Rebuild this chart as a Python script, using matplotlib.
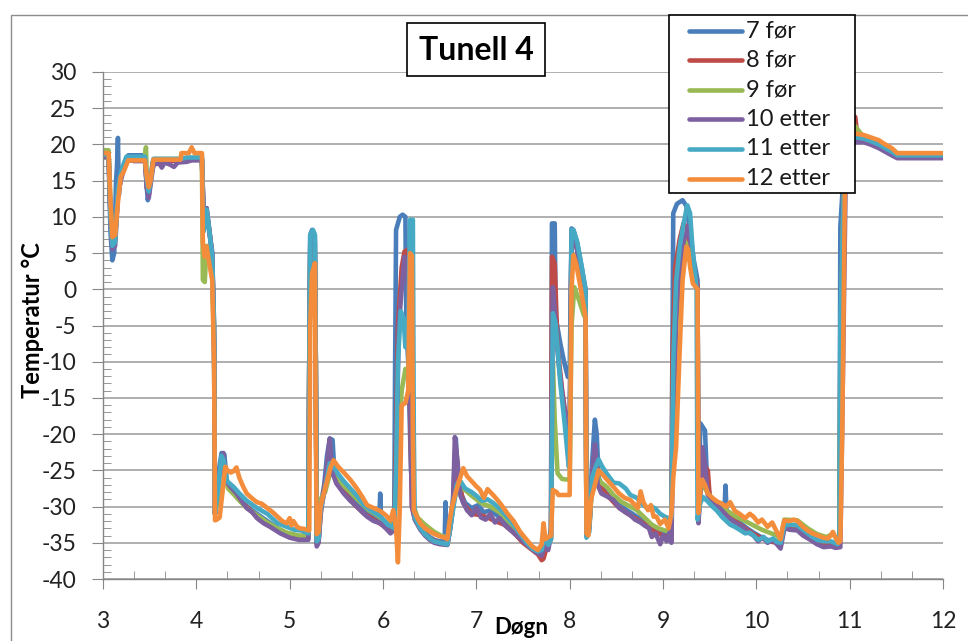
import matplotlib
matplotlib.use("Agg")
import matplotlib.pyplot as plt
from matplotlib.patches import Rectangle
from matplotlib.lines import Line2D
from matplotlib.ticker import MultipleLocator

plt.rcParams['font.family'] = ['Lato', 'DejaVu Sans']
plt.rcParams['axes.unicode_minus'] = False

# (døgn, temperatur) per måler
s7 = [(3.00,18.5),(3.06,18.5),(3.08,8),(3.10,4.0),(3.12,5),(3.14,15),(3.15,17),(3.16,20.9),(3.17,13),(3.19,16),(3.23,17.5),(3.27,18.5),(3.45,18.5),(3.47,14),(3.48,12.3),(3.50,14),(3.53,17.5),(3.83,18),(4.06,18),(4.08,9),(4.11,11.2),(4.14,8),(4.17,5),(4.19,-8),(4.20,-31),(4.23,-26),(4.27,-22.6),(4.30,-22.8),(4.33,-27),(4.40,-27.8),(4.47,-29),(4.54,-30),(4.65,-31),(4.76,-32),(4.87,-33),(4.97,-33.8),(5.05,-34),(5.12,-34.2),(5.20,-34.2),(5.21,-10),(5.22,7.5),(5.24,8.2),(5.27,7.5),(5.28,-10),(5.29,-35),(5.31,-34.6),(5.33,-30),(5.37,-27),(5.40,-23),(5.43,-20.6),(5.46,-20.8),(5.48,-25.5),(5.55,-27),(5.65,-28.5),(5.75,-30),(5.83,-30.8),(5.90,-31.5),(5.96,-31.8),(5.97,-28.2),(5.98,-31.8),(6.05,-32.6),(6.12,-32),(6.13,-10),(6.14,8.2),(6.18,10.0),(6.21,10.3),(6.24,10),(6.25,-5),(6.27,-10),(6.30,-25),(6.34,-31.5),(6.40,-32.8),(6.45,-33.6),(6.50,-34.2),(6.55,-34.6),(6.61,-34.8),(6.66,-34.8),(6.67,-29.4),(6.68,-34.5),(6.72,-32),(6.75,-29),(6.78,-20.6),(6.80,-25),(6.83,-28),(6.88,-29.5),(6.95,-30.2),(7.02,-29.8),(7.08,-30.8),(7.15,-30.5),(7.22,-31.2),(7.30,-32),(7.38,-33),(7.45,-33.9),(7.52,-34.8),(7.58,-35.5),(7.64,-36),(7.70,-36.4),(7.73,-34),(7.77,-35.5),(7.80,-33),(7.81,9.1),(7.84,9.1),(7.85,-3.8),(7.90,-7.5),(7.94,-10),(7.98,-12.1),(8.00,-12),(8.02,8.4),(8.04,8.2),(8.08,6.5),(8.13,3),(8.17,0),(8.18,-34),(8.21,-32),(8.24,-24),(8.27,-18),(8.29,-20),(8.31,-26),(8.36,-27.5),(8.42,-28.5),(8.47,-29),(8.53,-29.8),(8.60,-30.4),(8.65,-30.8),(8.72,-31.4),(8.80,-32.0),(8.88,-32.8),(8.95,-33.2),(9.02,-33.6),(9.09,-34),(9.10,-10),(9.11,10.5),(9.15,11.8),(9.21,12.3),(9.25,11.5),(9.29,8),(9.33,4),(9.37,1.3),(9.38,-31.5),(9.40,-18.5),(9.45,-19.5),(9.47,-26),(9.50,-28.6),(9.55,-29.4),(9.62,-30.2),(9.66,-30.0),(9.67,-27.1),(9.68,-30.5),(9.75,-31.5),(9.82,-32.2),(9.90,-33),(9.97,-33.6),(10.05,-34.2),(10.12,-34.6),(10.20,-34.8),(10.26,-35.2),(10.30,-32.8),(10.36,-32.8),(10.44,-33.0),(10.52,-33.8),(10.60,-34.4),(10.68,-34.9),(10.76,-35.2),(10.84,-35.3),(10.89,-35.3),(10.90,8.6),(10.93,15),(10.96,22),(11.06,21),(11.15,20.6),(11.22,20.3),(11.31,19.8),(11.38,19.3),(11.45,18.8),(11.51,18.3),(12.00,18.3)]

s8 = [(3.00,18.5),(3.06,18.5),(3.08,10),(3.10,6),(3.13,7),(3.16,13),(3.20,16),(3.25,17.8),(3.45,17.8),(3.47,14),(3.49,13),(3.52,16),(3.55,17.6),(3.83,17.8),(4.06,18),(4.08,9),(4.11,10.5),(4.14,8),(4.17,4.5),(4.19,-6),(4.20,-31),(4.23,-27),(4.28,-23),(4.31,-26.5),(4.38,-27.5),(4.45,-28.5),(4.54,-30),(4.65,-31.4),(4.76,-32.5),(4.87,-33.3),(4.97,-34),(5.10,-34.4),(5.20,-34.4),(5.21,-10),(5.22,5),(5.25,6.5),(5.27,5),(5.28,-10),(5.29,-35.2),(5.31,-34.8),(5.34,-30),(5.40,-25),(5.43,-22),(5.46,-25.5),(5.52,-27),(5.60,-28.3),(5.70,-29.8),(5.80,-31),(5.90,-31.8),(6.00,-32.6),(6.08,-33.4),(6.12,-33),(6.14,-20),(6.16,-5),(6.20,3),(6.23,5.2),(6.27,5.5),(6.28,-10),(6.31,-30),(6.34,-31.6),(6.40,-33),(6.50,-34.4),(6.60,-35),(6.69,-35.2),(6.72,-33),(6.75,-30),(6.78,-22),(6.81,-26),(6.86,-29.5),(6.95,-31),(7.05,-31.2),(7.12,-31.5),(7.20,-32),(7.30,-32.5),(7.40,-33.6),(7.50,-35),(7.58,-35.8),(7.66,-36.6),(7.70,-37.4),(7.72,-37.2),(7.75,-35.8),(7.80,-34.5),(7.81,4.5),(7.84,3.5),(7.87,-8),(7.92,-14),(7.98,-19.5),(8.00,-19.5),(8.02,7.5),(8.04,7.5),(8.08,5.5),(8.13,2),(8.17,-0.5),(8.18,-33.8),(8.21,-33),(8.24,-26),(8.27,-22),(8.31,-27),(8.40,-28.4),(8.50,-29.8),(8.60,-30.8),(8.70,-31.6),(8.80,-32.4),(8.90,-33.4),(9.00,-34),(9.09,-34.5),(9.10,-10),(9.13,3),(9.18,7),(9.22,9.1),(9.26,8.5),(9.30,5),(9.34,2),(9.37,0.5),(9.38,-31.5),(9.41,-26),(9.45,-24.5),(9.48,-25),(9.50,-28.5),(9.58,-29.8),(9.68,-31),(9.77,-32),(9.88,-33),(9.97,-33.8),(10.06,-34.4),(10.14,-34.8),(10.22,-35),(10.26,-35.4),(10.30,-32.6),(10.44,-33),(10.55,-34),(10.65,-34.8),(10.75,-35.3),(10.89,-35.4),(10.90,-10),(10.93,10),(10.96,20),(11.02,23),(11.06,23.8),(11.08,21.5),(11.15,20.7),(11.22,20.4),(11.31,19.9),(11.38,19.4),(11.45,18.9),(11.51,18.4),(12.00,18.4)]

s9 = [(3.00,19.2),(3.06,19.2),(3.08,12),(3.10,7),(3.13,7.5),(3.16,13),(3.20,16),(3.25,18),(3.45,18),(3.46,19.6),(3.47,15),(3.49,13.5),(3.52,16),(3.55,18),(3.83,18),(4.06,18.2),(4.07,1.3),(4.09,1),(4.11,6),(4.14,5),(4.17,2),(4.19,-8),(4.20,-31),(4.23,-29),(4.27,-28.5),(4.30,-25.5),(4.34,-27.5),(4.40,-28.3),(4.47,-29.3),(4.54,-30.2),(4.65,-31.2),(4.76,-32.2),(4.87,-33),(4.97,-33.6),(5.10,-34),(5.20,-34),(5.21,-10),(5.22,4),(5.25,5.5),(5.27,4),(5.28,-10),(5.29,-34.5),(5.31,-34),(5.33,-29),(5.38,-28),(5.44,-25),(5.48,-25.5),(5.55,-26.8),(5.65,-28),(5.75,-29.3),(5.85,-30.5),(5.95,-31.3),(6.05,-32.3),(6.12,-32.8),(6.14,-28),(6.17,-20),(6.20,-14),(6.24,-11),(6.27,-12),(6.29,-5),(6.31,-8),(6.33,-30),(6.37,-31.5),(6.45,-32.5),(6.55,-33.5),(6.62,-34),(6.69,-34.3),(6.72,-32.5),(6.75,-30),(6.80,-27),(6.86,-27.5),(6.95,-28.5),(7.05,-29.5),(7.15,-30),(7.25,-30.8),(7.33,-31.8),(7.42,-33),(7.50,-34.5),(7.58,-35.4),(7.66,-36.2),(7.70,-36),(7.73,-34),(7.77,-35.2),(7.80,-34.5),(7.82,-10),(7.84,-18),(7.87,-25.4),(7.92,-26.2),(8.00,-26.3),(8.02,-5),(8.05,0.3),(8.10,-1.5),(8.15,-3.5),(8.17,-4),(8.18,-33.8),(8.21,-33),(8.24,-27),(8.28,-25),(8.32,-26.5),(8.40,-27.3),(8.47,-28.4),(8.55,-29.3),(8.65,-30),(8.72,-30.5),(8.80,-31.5),(8.88,-32.5),(8.95,-33),(9.02,-33.3),(9.09,-33.5),(9.11,-15),(9.15,-3),(9.19,3),(9.24,6.5),(9.27,6),(9.31,2),(9.37,0),(9.38,-31),(9.41,-27),(9.45,-27.5),(9.50,-28.6),(9.58,-29.6),(9.68,-30.5),(9.77,-31.3),(9.88,-32),(9.97,-32.6),(10.06,-33.2),(10.14,-33.6),(10.22,-34),(10.26,-34.6),(10.30,-31.8),(10.44,-31.9),(10.55,-33),(10.65,-33.8),(10.75,-34.2),(10.82,-33.8),(10.89,-35),(10.90,-10),(10.93,10),(10.96,20),(11.02,23),(11.06,22.5),(11.15,21),(11.22,20.7),(11.31,20.2),(11.38,19.7),(11.45,19.2),(11.51,18.6),(12.00,18.6)]

s10 = [(3.00,18.3),(3.06,18.3),(3.08,10),(3.10,5.5),(3.13,6),(3.16,13),(3.19,15),(3.23,16.8),(3.27,18.0),(3.33,17.7),(3.45,17.7),(3.47,14),(3.49,12.6),(3.51,14.5),(3.54,17.2),(3.60,17.4),(3.63,16.8),(3.66,17.5),(3.72,17.2),(3.76,16.9),(3.80,17.5),(3.90,17.6),(3.95,17.8),(4.06,17.8),(4.08,10),(4.11,11.2),(4.14,8),(4.17,5),(4.19,-5),(4.20,-31),(4.22,-28),(4.25,-25),(4.29,-22.6),(4.31,-26.3),(4.36,-27.2),(4.43,-28.2),(4.50,-29.5),(4.54,-30.2),(4.60,-30.8),(4.65,-31.6),(4.72,-32.3),(4.79,-32.8),(4.85,-33.3),(4.90,-33.7),(5.00,-34.3),(5.10,-34.6),(5.20,-34.6),(5.21,-10),(5.22,6),(5.24,7.5),(5.27,6.5),(5.28,-10),(5.29,-35.5),(5.31,-35.0),(5.33,-31),(5.37,-28),(5.40,-24),(5.43,-20.6),(5.45,-25),(5.50,-26.8),(5.58,-28.2),(5.65,-29.2),(5.72,-30.0),(5.78,-30.8),(5.83,-31.4),(5.90,-32.0),(5.97,-32.3),(6.03,-33.0),(6.08,-33.7),(6.12,-33.2),(6.14,-25),(6.17,-5),(6.20,0),(6.23,4.5),(6.26,2),(6.28,-5),(6.31,-30),(6.34,-31.8),(6.40,-33.2),(6.45,-34.0),(6.50,-34.6),(6.55,-35.0),(6.61,-35.2),(6.69,-35.3),(6.72,-33),(6.75,-30),(6.77,-20.4),(6.80,-24),(6.83,-28.5),(6.86,-29.5),(6.90,-30.5),(6.95,-31.2),(7.00,-30.2),(7.05,-31.5),(7.10,-31.8),(7.15,-31.0),(7.20,-32.2),(7.25,-31.6),(7.30,-32.5),(7.38,-33.4),(7.45,-34.2),(7.52,-35.0),(7.58,-35.7),(7.64,-36.3),(7.70,-36.8),(7.73,-35.5),(7.77,-36),(7.80,-34),(7.82,0.3),(7.84,-3),(7.88,-10),(7.93,-15.5),(7.98,-19.9),(8.00,-20),(8.02,8.0),(8.04,8.0),(8.07,6),(8.12,2.5),(8.17,-0.1),(8.18,-33.5),(8.21,-33),(8.24,-26),(8.27,-21.4),(8.30,-27),(8.34,-28.2),(8.40,-28.6),(8.47,-29.1),(8.53,-30.2),(8.60,-30.8),(8.65,-31.2),(8.70,-31.8),(8.76,-32.2),(8.80,-32.6),(8.85,-33.0),(8.88,-34.2),(8.92,-33.7),(8.97,-35.2),(9.00,-34.0),(9.04,-34.8),(9.07,-33.6),(9.09,-35),(9.11,-20),(9.14,-4),(9.18,3),(9.22,6.5),(9.27,8.7),(9.30,6),(9.34,2),(9.37,0),(9.38,-32.3),(9.40,-28),(9.42,-21.8),(9.45,-24),(9.48,-28.4),(9.53,-29.2),(9.58,-29.8),(9.63,-30.5),(9.70,-31.5),(9.77,-32.2),(9.85,-32.8),(9.92,-33.6),(9.97,-34.0),(10.02,-34.8),(10.07,-34.2),(10.12,-35.0),(10.18,-34.6),(10.22,-35.2),(10.26,-35.8),(10.30,-33.0),(10.36,-33.2),(10.44,-33.3),(10.50,-34.0),(10.58,-34.6),(10.65,-35.2),(10.72,-35.6),(10.80,-35.5),(10.85,-35.7),(10.90,-35.6),(10.93,-10),(10.96,18),(11.00,21),(11.06,20.3),(11.15,20.3),(11.22,20.0),(11.31,19.5),(11.38,19.0),(11.45,18.5),(11.51,18.1),(12.00,18.1)]

s11 = [(3.00,18.6),(3.06,18.6),(3.08,10),(3.10,6),(3.13,6.5),(3.16,14),(3.20,16.5),(3.25,18.3),(3.45,18.3),(3.47,15),(3.49,13.5),(3.51,15),(3.54,18.0),(3.83,18.0),(3.90,18.2),(4.06,18.2),(4.08,8),(4.11,11),(4.14,8),(4.17,4.5),(4.19,-5),(4.20,-31),(4.23,-28),(4.27,-23),(4.29,-23.5),(4.33,-26.5),(4.40,-27.3),(4.47,-28.3),(4.54,-29.2),(4.65,-30.2),(4.76,-31.0),(4.87,-32.3),(4.97,-32.8),(5.05,-33.2),(5.12,-33.3),(5.20,-33.7),(5.21,-10),(5.22,7.5),(5.25,8.2),(5.27,7.5),(5.28,-10),(5.29,-34.8),(5.31,-34.5),(5.33,-30.5),(5.37,-28.0),(5.43,-24),(5.47,-24.5),(5.52,-25.5),(5.58,-26.5),(5.65,-27.5),(5.72,-28.5),(5.80,-29.8),(5.88,-30.6),(5.97,-31.3),(6.05,-32.5),(6.12,-33),(6.14,-25),(6.16,-10),(6.19,-3),(6.22,-4),(6.24,-8),(6.27,-5),(6.29,9.6),(6.32,9.6),(6.33,-20),(6.34,-31.5),(6.40,-33),(6.45,-33.8),(6.50,-34.4),(6.55,-34.8),(6.61,-35.0),(6.69,-35.2),(6.72,-33),(6.75,-30.5),(6.79,-27),(6.83,-26.5),(6.88,-27.5),(6.95,-28.0),(7.00,-28.5),(7.06,-29.2),(7.12,-29.0),(7.18,-29.5),(7.25,-30.3),(7.33,-31.4),(7.40,-32.5),(7.47,-33.8),(7.54,-35.0),(7.60,-35.8),(7.66,-36.2),(7.70,-36.0),(7.73,-34),(7.77,-35.3),(7.80,-34.5),(7.82,-3.3),(7.85,-4.8),(7.90,-13),(7.95,-19),(7.99,-24.5),(8.00,-24),(8.02,8.2),(8.04,8.2),(8.08,6.5),(8.13,3),(8.17,-0.1),(8.18,-34.3),(8.21,-33.5),(8.24,-26),(8.28,-24.5),(8.31,-23.5),(8.35,-24.5),(8.40,-25.5),(8.47,-26.7),(8.53,-26.8),(8.60,-27.5),(8.65,-28.4),(8.72,-28.8),(8.78,-29.7),(8.84,-30.3),(8.88,-30.0),(8.92,-30.3),(8.97,-31.0),(9.02,-31.4),(9.06,-31.6),(9.09,-31.5),(9.11,-10),(9.14,1),(9.18,6),(9.22,9),(9.26,11.6),(9.29,10.5),(9.32,5),(9.36,0),(9.37,-31.8),(9.40,-29.5),(9.43,-28.7),(9.48,-29.3),(9.53,-30.0),(9.58,-30.6),(9.63,-31.4),(9.68,-32.0),(9.72,-32.5),(9.77,-32.8),(9.82,-33.2),(9.88,-33.7),(9.93,-33.6),(9.97,-34.0),(10.02,-34.6),(10.08,-34.2),(10.12,-34.8),(10.18,-34.4),(10.22,-34.9),(10.26,-35.0),(10.30,-32.6),(10.36,-32.5),(10.44,-32.6),(10.50,-33.2),(10.58,-34.0),(10.65,-34.6),(10.72,-34.8),(10.80,-34.8),(10.87,-35.2),(10.89,-34.6),(10.90,-5),(10.93,10),(10.96,20),(11.00,22),(11.06,21),(11.15,20.8),(11.22,20.5),(11.31,20),(11.38,19.5),(11.45,19),(11.51,18.5),(12.00,18.5)]

s12 = [(3.00,18.8),(3.06,18.8),(3.08,12),(3.10,7.2),(3.13,7.5),(3.16,12),(3.19,15.5),(3.22,16.2),(3.27,17.8),(3.45,17.8),(3.47,15.5),(3.49,14.1),(3.51,15),(3.54,17.9),(3.70,17.9),(3.83,17.9),(3.84,18.8),(3.92,18.8),(3.95,19.6),(3.98,18.8),(4.06,18.8),(4.07,6.4),(4.09,4.5),(4.11,5.9),(4.13,4.2),(4.17,1.3),(4.19,-10),(4.20,-31.9),(4.22,-31.8),(4.25,-31.5),(4.28,-28),(4.31,-24.5),(4.34,-25.1),(4.37,-25.3),(4.40,-25.1),(4.43,-24.6),(4.46,-26),(4.50,-27.2),(4.54,-28.2),(4.60,-28.9),(4.65,-29.4),(4.70,-29.6),(4.76,-30.2),(4.82,-30.8),(4.87,-31.4),(4.92,-32.0),(4.97,-32.3),(5.00,-31.6),(5.02,-32.6),(5.04,-32.0),(5.08,-32.8),(5.11,-33.0),(5.16,-33.1),(5.21,-33.3),(5.22,-5),(5.24,2.2),(5.27,3.6),(5.28,-20),(5.29,-33.8),(5.31,-33.5),(5.33,-30),(5.36,-28.5),(5.40,-26.5),(5.44,-24.5),(5.47,-23.6),(5.52,-24.5),(5.58,-25.3),(5.65,-26.3),(5.72,-27.5),(5.78,-28.7),(5.83,-29.8),(5.90,-30.2),(5.97,-30.6),(6.03,-31.2),(6.08,-31.9),(6.11,-30.5),(6.14,-33),(6.16,-37.7),(6.18,-30),(6.20,-16),(6.24,-15.7),(6.27,-14),(6.29,5.0),(6.31,4.6),(6.32,-20),(6.33,-30.5),(6.37,-31.6),(6.40,-32.3),(6.45,-33),(6.50,-33.4),(6.55,-33.8),(6.61,-34.1),(6.66,-34.3),(6.69,-34.5),(6.71,-32.3),(6.74,-30),(6.78,-28),(6.83,-25.9),(6.86,-24.7),(6.90,-25.8),(6.95,-26.5),(7.00,-27.2),(7.04,-27.7),(7.08,-28.8),(7.12,-27.6),(7.15,-28.0),(7.18,-28.4),(7.22,-29.0),(7.27,-29.8),(7.33,-30.9),(7.40,-32.0),(7.47,-33.5),(7.54,-34.6),(7.60,-35.5),(7.66,-36.0),(7.70,-35.2),(7.72,-32.3),(7.74,-34.5),(7.77,-34.2),(7.80,-34.0),(7.82,-27.7),(7.86,-28.0),(7.88,-28.4),(7.95,-28.4),(8.00,-28.4),(8.02,0),(8.04,4.7),(8.07,3.5),(8.12,0),(8.17,-3.8),(8.18,-33.7),(8.20,-34.0),(8.23,-29.0),(8.27,-27),(8.31,-25.0),(8.34,-25.4),(8.40,-26.3),(8.47,-27.3),(8.53,-28.2),(8.59,-28.8),(8.65,-29.1),(8.70,-29.8),(8.73,-30.2),(8.76,-27.9),(8.79,-29.4),(8.84,-30.5),(8.87,-29.8),(8.90,-31.4),(8.93,-31.4),(8.97,-32.4),(9.02,-31.8),(9.06,-33.0),(9.09,-31.0),(9.11,-26),(9.14,-21.8),(9.18,-8),(9.21,1.3),(9.25,5.9),(9.27,5.5),(9.29,3.1),(9.32,0.8),(9.37,0),(9.38,-30.9),(9.40,-27.5),(9.42,-26.3),(9.45,-27),(9.48,-28.2),(9.53,-28.8),(9.58,-29.3),(9.63,-29.6),(9.68,-30.0),(9.72,-29.4),(9.77,-30.6),(9.82,-31.0),(9.88,-31.6),(9.93,-31.0),(9.97,-31.4),(10.02,-32.2),(10.06,-31.8),(10.12,-32.8),(10.17,-32.2),(10.22,-33.5),(10.26,-34.5),(10.28,-33),(10.30,-31.9),(10.35,-32.0),(10.40,-31.8),(10.44,-32.0),(10.50,-32.8),(10.55,-33.3),(10.60,-33.7),(10.66,-34.0),(10.72,-34.3),(10.77,-34.4),(10.80,-33.9),(10.82,-33.5),(10.85,-34.3),(10.88,-35.0),(10.90,-34.8),(10.92,-20),(10.95,15),(11.00,21.5),(11.06,21.5),(11.15,21.3),(11.22,21.0),(11.31,20.6),(11.38,20.0),(11.45,19.5),(11.51,18.8),(12.00,18.8)]

labels = ["7 før", "8 før", "9 før", "10 etter", "11 etter", "12 etter"]
colors = ['#4A7EBB', '#BE4B48', '#98B954', '#7D60A0', '#46AAC5', '#F38D3C']
series = [s7, s8, s9, s10, s11, s12]

W, H = 968, 641
LW = 3.3
fig = plt.figure(figsize=(W / 100, H / 100), dpi=100)
ax = fig.add_axes([103 / W, 62 / H, 840 / W, 507 / H])

for pts, lab, col in zip(series, labels, colors):
    t, v = zip(*pts)
    ax.plot(t, v, color=col, lw=LW, label=lab, solid_joinstyle='round')

ax.set_xlim(3, 12)
ax.set_ylim(-40, 30)
ax.xaxis.set_major_locator(MultipleLocator(1))
ax.xaxis.set_minor_locator(MultipleLocator(1 / 3))
ax.yaxis.set_major_locator(MultipleLocator(5))
ax.yaxis.set_minor_locator(MultipleLocator(1))

axcol = '#868686'
for side in ['top', 'right']:
    ax.spines[side].set_visible(False)
for side in ['left', 'bottom']:
    ax.spines[side].set_color(axcol)
    ax.spines[side].set_linewidth(1.0)

ax.yaxis.grid(True, which='major', color='#9a9a9a', lw=1.1)
ax.set_axisbelow(True)

ax.tick_params(axis='both', which='major', direction='out', color=axcol,
               labelsize=16.5, labelcolor='#222222')
ax.tick_params(axis='y', which='major', length=8, pad=11)
ax.tick_params(axis='x', which='major', length=7, pad=16)
ax.tick_params(axis='both', which='minor', direction='in', color=axcol, length=6)

# ramme rundt hele diagrammet
fig.patches.append(Rectangle((11 / W, -0.1), 2, 1 - 15 / H + 0.1, transform=fig.transFigure,
                             fill=False, edgecolor='#8c8c8c', lw=1.0))

# tittel i boks
fig.patches.append(Rectangle((407 / W, 1 - 76 / H), 138 / W, 53 / H, transform=fig.transFigure,
                             facecolor='white', edgecolor='black', lw=1.2, zorder=5))
fig.text(476 / W, 1 - 50 / H, "Tunell 4", fontsize=23, fontweight='bold',
         ha='center', va='center', zorder=6)

fig.text(33 / W, 1 - 320 / H, "Temperatur °C", fontsize=17, fontweight='bold',
         rotation=90, ha='center', va='center')
fig.text(521 / W, 1 - 628 / H, "Døgn", fontsize=16, fontweight='bold',
         ha='center', va='center')

# tegnforklaring som egen boks over plottet
fig.patches.append(Rectangle((669 / W, 1 - 193 / H), 186 / W, 178 / H, transform=fig.transFigure,
                             facecolor='white', edgecolor='black', lw=1.2, zorder=5))
for i, (lab, col) in enumerate(zip(labels, colors)):
    yc = 1 - (30.5 + i * 29.6) / H
    fig.add_artist(Line2D([689 / W, 742 / W], [yc, yc], transform=fig.transFigure,
                          color=col, lw=LW, solid_capstyle='round', zorder=6))
    fig.text(746 / W, yc, lab, fontsize=17, ha='left', va='center',
             color='#1a1a1a', zorder=6)

fig.savefig("out.png", dpi=100)
